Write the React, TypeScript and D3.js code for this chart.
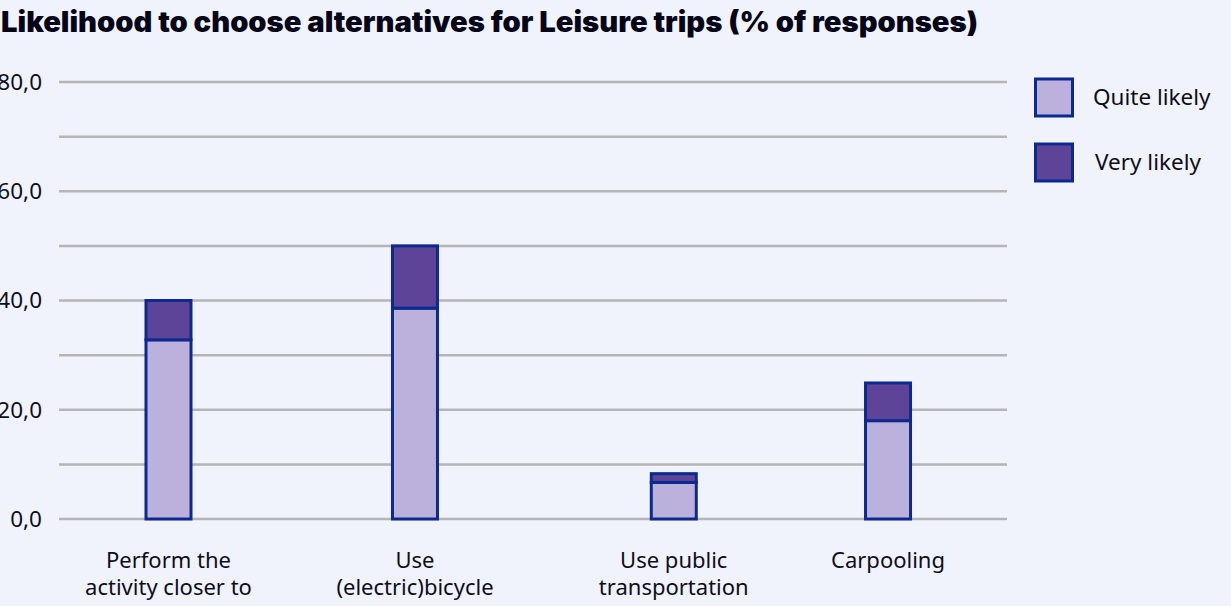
import React, { useEffect, useRef } from "react";
import * as d3 from "d3";

// Leisure-trip alternatives, % of responses
const categories = [
  "Perform the activity closer to",
  "Use (electric)bicycle",
  "Use public transportation",
  "Carpooling",
];
const categoryLines = [
  ["Perform the", "activity closer to"],
  ["Use", "(electric)bicycle"],
  ["Use public", "transportation"],
  ["Carpooling"],
];
const quiteLikely = [32.8, 38.6, 6.7, 18.0];
const veryLikely = [7.2, 11.4, 1.6, 6.9];
const seriesNames = ["Quite likely", "Very likely"];
const yTicks = [0, 20, 40, 60, 80];
const yGrid = [0, 10, 20, 30, 40, 50, 60, 70, 80];

// layout
const W = 1231;
const H = 606;
const plot = { left: 59, right: 1007, top: 82, bottom: 519 };
// horizontal slot of each category inside the plot, as a fraction of its width
const slotFractions = [0.1155, 0.3755, 0.6485, 0.8745];
const barWidth = 45;

const BG = "#f0f3fb";
const GRID = "#b5b5b5";
const STROKE = "#0c2a8e";
const COLORS = ["#bcb1dc", "#5d4498"];
const TEXT = "#0d0d1c";
const FONT = "'Noto Sans', 'Open Sans', sans-serif";

export default function App() {
  const ref = useRef<SVGSVGElement | null>(null);

  useEffect(() => {
    document.body.style.margin = "0";
    const svg = d3.select(ref.current);
    svg.selectAll("*").remove();

    svg.append("rect").attr("width", W).attr("height", H).attr("fill", BG);

    const y = d3.scaleLinear().domain([0, 80]).range([plot.bottom, plot.top]);
    const xFrac = d3.scaleLinear().domain([0, 1]).range([plot.left, plot.right]);
    const x = d3
      .scaleOrdinal<string, number>()
      .domain(categories)
      .range(slotFractions.map((f) => xFrac(f)));

    // title
    svg
      .append("text")
      .attr("x", 1)
      .attr("y", 32)
      .attr("font-family", "Inter, 'Noto Sans', sans-serif")
      .attr("font-weight", 900)
      .attr("font-size", 28)
      .attr("fill", "#05051a")
      .attr("textLength", 977)
      .attr("lengthAdjust", "spacingAndGlyphs")
      .text("Likelihood to choose alternatives for Leisure trips (% of responses)");

    // gridlines
    svg
      .append("g")
      .selectAll("line")
      .data(yGrid)
      .join("line")
      .attr("x1", plot.left)
      .attr("x2", plot.right)
      .attr("y1", (d) => y(d))
      .attr("y2", (d) => y(d))
      .attr("stroke", GRID)
      .attr("stroke-width", 2.5);

    // y tick labels
    svg
      .append("g")
      .selectAll("text")
      .data(yTicks)
      .join("text")
      .attr("x", 42)
      .attr("y", (d) => y(d))
      .attr("dy", "0.35em")
      .attr("text-anchor", "end")
      .attr("font-family", FONT)
      .attr("font-size", 22.5)
      .attr("fill", TEXT)
      .text((d) => d3.format(".1f")(d).replace(".", ","));

    // stacked bars
    const rows = categories.map((c, i) => ({
      cat: c,
      [seriesNames[0]]: quiteLikely[i],
      [seriesNames[1]]: veryLikely[i],
    }));
    const stack = d3.stack<any>().keys(seriesNames)(rows);

    const gBars = svg.append("g");
    stack.forEach((layer, li) => {
      gBars
        .append("g")
        .selectAll("rect")
        .data(layer)
        .join("rect")
        .attr("x", (d) => x(d.data.cat) - barWidth / 2)
        .attr("width", barWidth)
        .attr("y", (d) => y(d[1]))
        .attr("height", (d) => y(d[0]) - y(d[1]))
        .attr("fill", COLORS[li])
        .attr("stroke", STROKE)
        .attr("stroke-width", 3);
    });

    // category labels, one text per line
    const gLabels = svg.append("g");
    categories.forEach((c, i) => {
      categoryLines[i].forEach((line, li) => {
        gLabels
          .append("text")
          .attr("x", x(c))
          .attr("y", 568 + li * 27)
          .attr("text-anchor", "middle")
          .attr("font-family", FONT)
          .attr("font-size", 22)
          .attr("fill", TEXT)
          .text(line);
      });
    });

    // legend
    const legend = svg.append("g");
    seriesNames.forEach((name, i) => {
      const ly = 79 + i * 65;
      legend
        .append("rect")
        .attr("x", 1035.5)
        .attr("y", ly)
        .attr("width", 37)
        .attr("height", 37)
        .attr("fill", COLORS[i])
        .attr("stroke", STROKE)
        .attr("stroke-width", 3);
      legend
        .append("text")
        .attr("x", i === 0 ? 1093 : 1095)
        .attr("y", ly + 18.5)
        .attr("dy", "0.35em")
        .attr("font-family", FONT)
        .attr("font-size", 22.5)
        .attr("fill", TEXT)
        .text(name);
    });
  }, []);

  return (
    <svg
      ref={ref}
      width={W}
      height={H}
      style={{ display: "block", position: "absolute", left: 0, top: 0 }}
    />
  );
}
